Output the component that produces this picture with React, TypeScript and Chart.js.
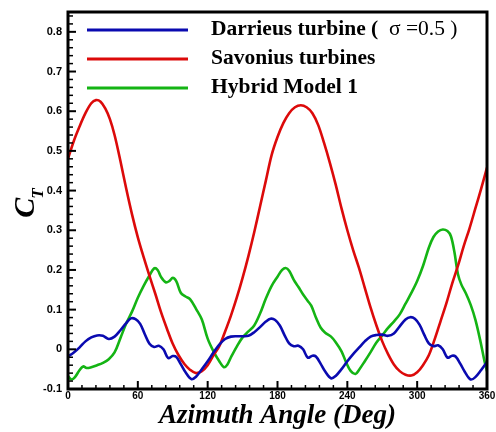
import React, { useEffect, useRef } from 'react';
import { Chart, registerables } from 'chart.js';

Chart.register(...registerables);

// ---- Data ----
const darrieusAngles = [0, 5, 10, 15, 20, 25, 30, 35, 40, 45, 50, 54, 58, 62, 66, 70, 74, 78, 82, 86, 90, 93, 97, 101, 106, 110, 115, 120, 125, 130, 135, 140, 145, 150, 155, 160, 165, 170, 174, 178, 182, 186, 190, 194, 198, 202, 206, 210, 213, 217, 221, 226, 230, 235, 240, 245, 250, 255, 260, 265, 270, 275, 280, 285, 290, 294, 298, 302, 306, 310, 314, 318, 322, 326, 330, 333, 337, 341, 346, 350, 355, 360];
const darrieusCt = [-0.018, -0.008, 0.005, 0.02, 0.03, 0.035, 0.034, 0.026, 0.032, 0.048, 0.066, 0.078, 0.076, 0.064, 0.038, 0.014, 0.006, 0.009, 0.0, -0.022, -0.017, -0.019, -0.038, -0.058, -0.075, -0.069, -0.05, -0.03, -0.008, 0.012, 0.026, 0.032, 0.033, 0.033, 0.034, 0.043, 0.056, 0.07, 0.077, 0.074, 0.06, 0.036, 0.015, 0.008, 0.009, 0.0, -0.021, -0.016, -0.018, -0.036, -0.056, -0.073, -0.067, -0.05, -0.03, -0.012, 0.004, 0.02, 0.032, 0.036, 0.037, 0.034, 0.04, 0.058, 0.075, 0.081, 0.077, 0.062, 0.037, 0.015, 0.008, 0.01, 0.0, -0.021, -0.016, -0.018, -0.036, -0.057, -0.076, -0.07, -0.052, -0.032];

const savoniusAngles = [0, 5, 10, 15, 20, 24, 28, 32, 36, 40, 45, 50, 55, 60, 65, 70, 75, 80, 85, 90, 95, 100, 105, 110, 115, 120, 125, 130, 135, 140, 145, 150, 155, 160, 165, 170, 175, 180, 185, 190, 195, 200, 205, 210, 215, 220, 225, 230, 235, 240, 245, 250, 255, 260, 265, 270, 275, 280, 285, 290, 295, 300, 305, 310, 315, 320, 325, 330, 335, 340, 345, 350, 355, 360];
const savoniusCt = [0.48, 0.525, 0.562, 0.595, 0.62, 0.628, 0.624, 0.607, 0.58, 0.54, 0.475, 0.405, 0.34, 0.282, 0.232, 0.185, 0.14, 0.093, 0.052, 0.014, -0.015, -0.037, -0.052, -0.06, -0.055, -0.04, -0.015, 0.008, 0.045, 0.085, 0.13, 0.18, 0.235, 0.295, 0.36, 0.425, 0.49, 0.535, 0.57, 0.595, 0.61, 0.615, 0.61, 0.595, 0.565, 0.52, 0.47, 0.415, 0.355, 0.3, 0.25, 0.205, 0.155, 0.105, 0.06, 0.02, -0.012, -0.038, -0.055, -0.064, -0.066, -0.058, -0.04, -0.015, 0.025, 0.07, 0.115, 0.165, 0.21, 0.26, 0.305, 0.355, 0.405, 0.458];

const hybridAngles = [0, 3, 6, 10, 13, 16, 20, 25, 30, 35, 40, 45, 50, 55, 60, 65, 70, 74, 77, 80, 84, 87, 90, 93, 97, 101, 105, 110, 115, 120, 125, 130, 134, 137, 140, 145, 150, 155, 160, 165, 170, 175, 180, 184, 187, 190, 194, 198, 202, 206, 209, 213, 217, 221, 226, 230, 235, 239, 243, 247, 250, 255, 260, 265, 270, 275, 280, 285, 290, 295, 300, 305, 310, 314, 318, 322, 326, 329, 332, 335, 338, 342, 346, 350, 354, 358, 360];
const hybridCt = [-0.068, -0.076, -0.07, -0.052, -0.043, -0.047, -0.045, -0.04, -0.034, -0.025, -0.008, 0.028, 0.065, 0.095, 0.13, 0.16, 0.186, 0.204, 0.2, 0.182, 0.169, 0.172, 0.18, 0.172, 0.142, 0.133, 0.126, 0.102, 0.075, 0.027, -0.005, -0.03, -0.045, -0.038, -0.02, 0.007, 0.03, 0.045, 0.06, 0.09, 0.128, 0.16, 0.183, 0.2, 0.205, 0.198, 0.175, 0.157, 0.138, 0.122, 0.11, 0.08, 0.055, 0.042, 0.032, 0.018, -0.005, -0.033, -0.055, -0.062, -0.052, -0.03, -0.007, 0.017, 0.035, 0.054, 0.07, 0.088, 0.115, 0.142, 0.172, 0.21, 0.256, 0.283, 0.297, 0.302, 0.298, 0.285, 0.245, 0.19, 0.163, 0.14, 0.112, 0.075, 0.025, -0.032, -0.055];

const seriesColors = ['#0a0ab0', '#dc0a0a', '#14b414'];
const legendBold = ['Darrieus turbine (', 'Savonius turbines', 'Hybrid Model 1'];
const legendExtra = ['  \u03c3 =0.5 )', '', ''];
const xTitle = 'Azimuth Angle (Deg)';
const yTitleMain = 'C';
const yTitleSub = 'T';

const SERIF = '"Liberation Serif", "Times New Roman", serif';
const SANS = '"Liberation Sans", Arial, sans-serif';

const toPoints = (xs: number[], ys: number[]) => xs.map((x, i) => ({ x, y: ys[i] }));

const decorPlugin = {
  id: 'decor',
  afterDatasetsDraw(chart: any) {
    const { ctx, chartArea: a, scales } = chart;
    const xs = scales.x;
    const ys = scales.y;
    ctx.save();
    ctx.strokeStyle = '#000';
    // inward ticks on the x axis
    for (let d = 0; d <= 360; d += 12) {
      const px = xs.getPixelForValue(d);
      const major = d % 60 === 0;
      ctx.lineWidth = major ? 2 : 1.5;
      ctx.beginPath();
      ctx.moveTo(px, a.bottom);
      ctx.lineTo(px, a.bottom - (major ? 8 : 4));
      ctx.stroke();
    }
    // inward ticks on the y axis
    for (let k = -5; k <= 42; k++) {
      const v = k * 0.02;
      const py = ys.getPixelForValue(v);
      const major = k % 5 === 0;
      ctx.lineWidth = major ? 2 : 1.5;
      ctx.beginPath();
      ctx.moveTo(a.left, py);
      ctx.lineTo(a.left + (major ? 8 : 5), py);
      ctx.stroke();
    }
    // frame
    ctx.lineWidth = 3;
    ctx.strokeRect(a.left, a.top, a.right - a.left, a.bottom - a.top);

    // legend
    const lx0 = a.left + 19;
    const lx1 = a.left + 120;
    const tx = a.left + 143;
    for (let i = 0; i < 3; i++) {
      const ly = a.top + 18 + i * 29;
      ctx.strokeStyle = seriesColors[i];
      ctx.lineWidth = 3;
      ctx.beginPath();
      ctx.moveTo(lx0, ly);
      ctx.lineTo(lx1, ly);
      ctx.stroke();
      ctx.fillStyle = '#000';
      ctx.textAlign = 'left';
      ctx.textBaseline = 'alphabetic';
      ctx.font = `bold 21.5px ${SERIF}`;
      ctx.fillText(legendBold[i], tx, ly + 5);
      if (legendExtra[i]) {
        const w = ctx.measureText(legendBold[i]).width;
        ctx.font = `21.5px ${SERIF}`;
        ctx.fillText(legendExtra[i], tx + w, ly + 5);
      }
    }
    ctx.restore();
  },
  afterDraw(chart: any) {
    const { ctx, chartArea: a } = chart;
    ctx.save();
    ctx.fillStyle = '#000';
    // x title
    ctx.font = `bold italic 27px ${SERIF}`;
    ctx.textAlign = 'center';
    ctx.textBaseline = 'alphabetic';
    ctx.fillText(xTitle, (a.left + a.right) / 2, 423);
    // y title with subscript
    ctx.translate(34, (a.top + a.bottom) / 2 + 2);
    ctx.rotate(-Math.PI / 2);
    ctx.font = `bold italic 30px ${SERIF}`;
    const wc = ctx.measureText(yTitleMain).width;
    ctx.font = `bold italic 17px ${SERIF}`;
    const wt = ctx.measureText(yTitleSub).width;
    const start = -(wc + wt) / 2;
    ctx.textAlign = 'left';
    ctx.font = `bold italic 30px ${SERIF}`;
    ctx.fillText(yTitleMain, start, 0);
    ctx.font = `bold italic 17px ${SERIF}`;
    ctx.fillText(yTitleSub, start + wc - 1, 9);
    ctx.restore();
  },
};

export default function App() {
  const ref = useRef<HTMLCanvasElement | null>(null);
  useEffect(() => {
    document.body.style.margin = '0';
    const canvas = ref.current;
    if (!canvas) return;
    const mk = (label: string, xs: number[], ys: number[], color: string) => ({
      label,
      data: toPoints(xs, ys),
      borderColor: color,
      backgroundColor: color,
      borderWidth: 2.6,
      pointRadius: 0,
      fill: false,
      tension: 0.35,
    });
    const chart = new Chart(canvas, {
      type: 'line',
      data: {
        datasets: [
          mk('Darrieus turbine ( \u03c3 =0.5 )', darrieusAngles, darrieusCt, seriesColors[0]),
          mk('Savonius turbines', savoniusAngles, savoniusCt, seriesColors[1]),
          mk('Hybrid Model 1', hybridAngles, hybridCt, seriesColors[2]),
        ],
      },
      options: {
        responsive: false,
        animation: false,
        devicePixelRatio: 1,
        layout: { padding: { left: 0, right: 9, top: 12, bottom: 0 } },
        plugins: { legend: { display: false }, tooltip: { enabled: false } },
        scales: {
          x: {
            type: 'linear',
            min: 0,
            max: 360,
            grid: { display: false, drawTicks: false },
            border: { display: false },
            ticks: {
              stepSize: 60,
              padding: 1,
              color: '#000',
              font: { family: SANS, weight: 'bold', size: 10 },
              maxRotation: 0,
              autoSkip: false,
              callback: (v: any) => String(Math.round(Number(v))),
            },
            afterFit: (s: any) => {
              s.height = 43;
              s.paddingLeft = 0;
              s.paddingRight = 0;
            },
          },
          y: {
            type: 'linear',
            min: -0.1,
            max: 0.85,
            grid: { display: false, drawTicks: false },
            border: { display: false },
            ticks: {
              stepSize: 0.1,
              includeBounds: false,
              padding: 6,
              color: '#000',
              font: { family: SANS, weight: 'bold', size: 11 },
              autoSkip: false,
              callback: (v: any) => {
                const n = Number(v);
                return Math.abs(n) < 1e-9 ? '0' : n.toFixed(1);
              },
            },
            afterFit: (s: any) => {
              s.width = 68;
              s.paddingTop = 0;
              s.paddingBottom = 0;
            },
          },
        },
      },
      plugins: [decorPlugin],
    });
    return () => chart.destroy();
  }, []);
  return <canvas ref={ref} width={496} height={432} style={{ display: 'block' }} />;
}
